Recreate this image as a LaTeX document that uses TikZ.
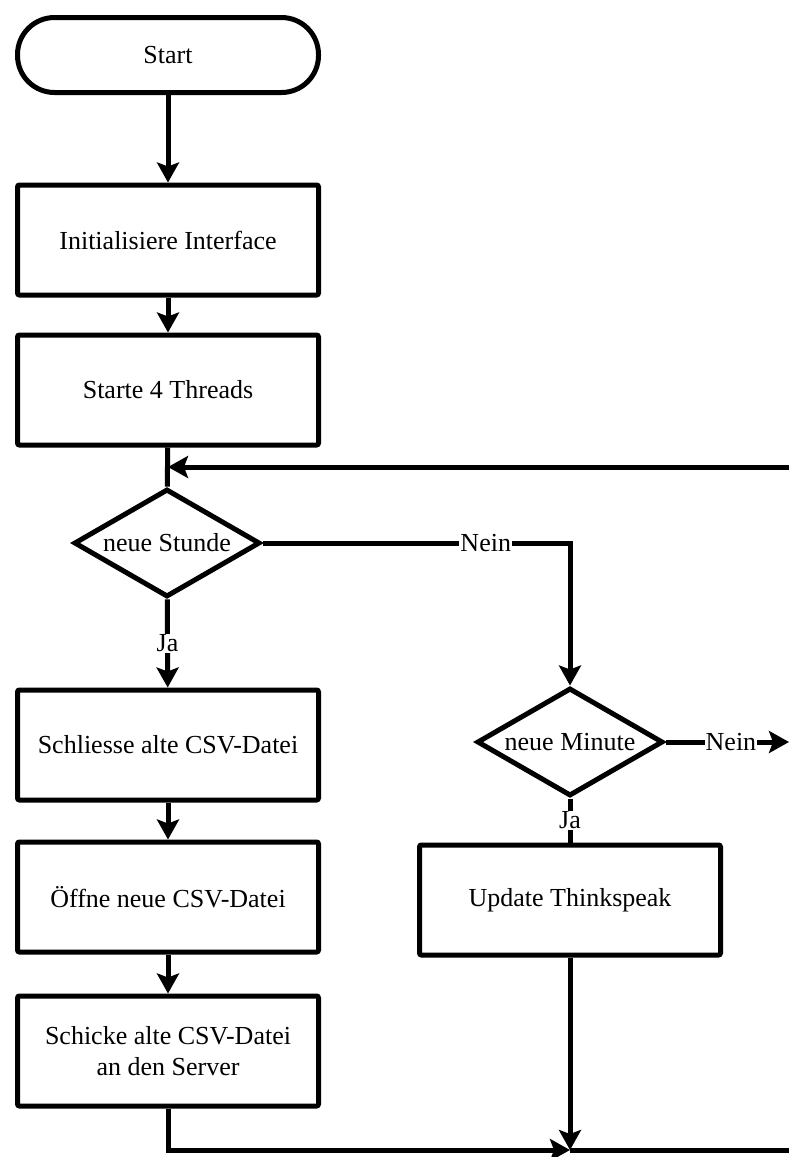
\documentclass[tikz,border=0pt]{standalone}
\usepackage{fontspec}
\setmainfont{Liberation Serif}
\usetikzlibrary{shapes.geometric,arrows.meta}
\begin{document}
\begin{tikzpicture}[x=1pt,y=-1pt,
  every node/.style={font=\fontsize{26}{31}\selectfont},
  flow/.style={line width=5pt, -{Stealth[length=20pt,width=22pt,inset=4pt]}},
  plain/.style={line width=5pt},
  procbox/.style={draw, line width=5pt, rounded corners=2pt, minimum width=301pt,
    minimum height=110pt, align=center, inner sep=0pt},
  terminal/.style={draw, line width=5pt, rounded corners=37pt, minimum width=301pt,
    minimum height=75pt},
  decision/.style={draw, diamond, line width=5pt, shape aspect=1.71, inner sep=0pt,
    minimum width=186pt, minimum height=108pt},
  tag/.style={fill=white, inner sep=1pt}
]
\useasboundingbox (0,0) rectangle (789,1157);

% main column
\node[terminal] (start)   at (168,55)   {Start};
\node[procbox]  (init)    at (168,240)  {Initialisiere Interface};
\node[procbox]  (threads) at (168,390)  {Starte 4 Threads};
\node[decision] (stunde)  at (167,543)  {neue Stunde};
\node[procbox]  (close)   at (168,745)  {Schliesse alte CSV-Datei};
\node[procbox]  (open)    at (168,897)  {Öffne neue CSV-Datei};
\node[procbox]  (send)    at (168,1051) {Schicke alte CSV-Datei\\an den Server};

% minute branch
\node[decision] (minute)  at (570,742)  {neue Minute};
\node[procbox]  (update)  at (570,900)  {Update Thinkspeak};

% loop points
\coordinate (merge)   at (168,467);
\coordinate (loopin)  at (789,467);
\coordinate (join)    at (570,1150);
\coordinate (loopout) at (789,1150);
\coordinate (exitR)   at (789,742);

% connectors
\draw[flow]  (start) -- (init);
\draw[flow]  (init) -- (threads);
\draw[plain] (threads) -- (stunde);
\draw[flow]  (loopin) -- (merge);
\draw[flow]  (stunde) -- node[tag] {Ja} (close);
\draw[flow]  (stunde.east) -| node[tag,pos=0.363] {Nein} (minute.north);
\draw[flow]  (close) -- (open);
\draw[flow]  (open) -- (send);
\draw[flow]  (minute.east) -- node[tag,pos=0.53] {Nein} (exitR);
\draw[plain] (minute) -- node[tag] {Ja} (update);
\draw[flow]  (update) -- (join);
\draw[flow]  (send.south) |- (join);
\draw[plain] (join) -- (loopout);
\end{tikzpicture}
\end{document}
